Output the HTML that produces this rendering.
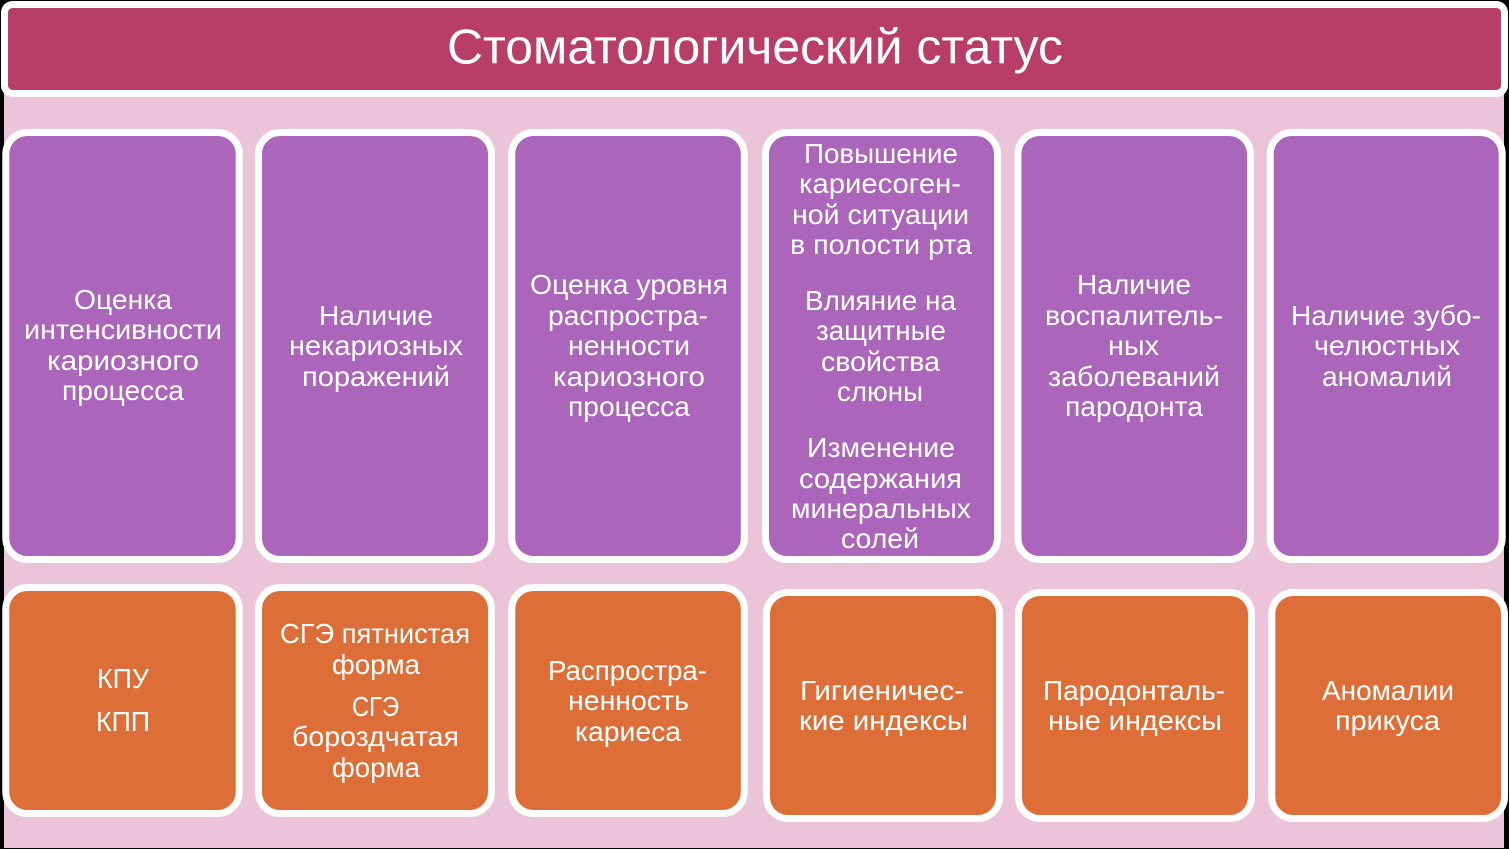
<!DOCTYPE html>
<html lang="ru"><head><meta charset="utf-8"><title>Стоматологический статус</title>
<style>
html,body{margin:0;padding:0;background:#000;width:1509px;height:849px;overflow:hidden}
svg{display:block}
text{font-family:"Liberation Sans",sans-serif;fill:#fff;text-anchor:middle;font-size:28px}
.p{fill:#ab65ba;stroke:#fff;stroke-width:7}
.o{fill:#de6e37;stroke:#fff;stroke-width:7}
</style></head><body>
<svg width="1509" height="849" viewBox="0 0 1509 849" xmlns="http://www.w3.org/2000/svg">
<rect x="0" y="0" width="1509" height="849" fill="#000"/>
<rect x="4" y="4" width="1500" height="844" fill="#ecc4da"/>
<rect x="4.5" y="4.5" width="1500" height="89" rx="8" fill="#b83e68" stroke="#fff" stroke-width="7"/>
<text x="755" y="63.5" style="font-size:49px" textLength="616" lengthAdjust="spacingAndGlyphs">Стоматологический статус</text>

<rect class="p" x="5.8" y="132.5" width="233.4" height="427" rx="21.5"/>
<rect class="p" x="258.5" y="132.5" width="233" height="427" rx="21.5"/>
<rect class="p" x="511.8" y="132.5" width="232.5" height="427" rx="21.5"/>
<rect class="p" x="765.5" y="132.5" width="232" height="427" rx="21.5"/>
<rect class="p" x="1018" y="132.5" width="232.5" height="427" rx="21.5"/>
<rect class="p" x="1270.2" y="132.5" width="232" height="427" rx="21.5"/>

<rect class="o" x="5.8" y="587.5" width="233.4" height="226" rx="21.5"/>
<rect class="o" x="258.5" y="587.5" width="233" height="226" rx="21.5"/>
<rect class="o" x="511.8" y="587.5" width="232.5" height="226" rx="21.5"/>
<rect class="o" x="766.5" y="592.5" width="233" height="226" rx="21.5"/>
<rect class="o" x="1018.5" y="592.5" width="233" height="226" rx="21.5"/>
<rect class="o" x="1271.8" y="592.5" width="232.7" height="226" rx="21.5"/>

<g>
<text x="123" y="309" textLength="98" lengthAdjust="spacingAndGlyphs">Оценка</text>
<text x="123" y="339" textLength="198" lengthAdjust="spacingAndGlyphs">интенсивности</text>
<text x="123" y="370" textLength="152" lengthAdjust="spacingAndGlyphs">кариозного</text>
<text x="123" y="400" textLength="122" lengthAdjust="spacingAndGlyphs">процесса</text>

<text x="376" y="325" textLength="114" lengthAdjust="spacingAndGlyphs">Наличие</text>
<text x="376" y="355" textLength="174" lengthAdjust="spacingAndGlyphs">некариозных</text>
<text x="376" y="386" textLength="148" lengthAdjust="spacingAndGlyphs">поражений</text>

<text x="629" y="294" textLength="198" lengthAdjust="spacingAndGlyphs">Оценка уровня</text>
<text x="628" y="325" textLength="160" lengthAdjust="spacingAndGlyphs">распростра-</text>
<text x="629" y="355" textLength="122" lengthAdjust="spacingAndGlyphs">ненности</text>
<text x="629" y="386" textLength="152" lengthAdjust="spacingAndGlyphs">кариозного</text>
<text x="629" y="416" textLength="122" lengthAdjust="spacingAndGlyphs">процесса</text>

<text x="881" y="163" textLength="154" lengthAdjust="spacingAndGlyphs">Повышение</text>
<text x="880" y="193" textLength="162" lengthAdjust="spacingAndGlyphs">кариесоген-</text>
<text x="880.5" y="224" textLength="177" lengthAdjust="spacingAndGlyphs">ной ситуации</text>
<text x="881" y="254" textLength="182" lengthAdjust="spacingAndGlyphs">в полости рта</text>
<text x="880.5" y="310" textLength="151" lengthAdjust="spacingAndGlyphs">Влияние на</text>
<text x="881" y="340" textLength="130" lengthAdjust="spacingAndGlyphs">защитные</text>
<text x="880.5" y="371" textLength="119" lengthAdjust="spacingAndGlyphs">свойства</text>
<text x="880" y="401" textLength="86" lengthAdjust="spacingAndGlyphs">слюны</text>
<text x="881" y="457" textLength="148" lengthAdjust="spacingAndGlyphs">Изменение</text>
<text x="880.5" y="488" textLength="163" lengthAdjust="spacingAndGlyphs">содержания</text>
<text x="881" y="518" textLength="180" lengthAdjust="spacingAndGlyphs">минеральных</text>
<text x="880" y="548" textLength="78" lengthAdjust="spacingAndGlyphs">солей</text>

<text x="1134" y="294" textLength="114" lengthAdjust="spacingAndGlyphs">Наличие</text>
<text x="1134" y="325" textLength="178" lengthAdjust="spacingAndGlyphs">воспалитель-</text>
<text x="1133.5" y="355" textLength="51" lengthAdjust="spacingAndGlyphs">ных</text>
<text x="1134" y="386" textLength="172" lengthAdjust="spacingAndGlyphs">заболеваний</text>
<text x="1134" y="416" textLength="138" lengthAdjust="spacingAndGlyphs">пародонта</text>

<text x="1386" y="325" textLength="190" lengthAdjust="spacingAndGlyphs">Наличие зубо-</text>
<text x="1387" y="355" textLength="146" lengthAdjust="spacingAndGlyphs">челюстных</text>
<text x="1387" y="386" textLength="130" lengthAdjust="spacingAndGlyphs">аномалий</text>

<text x="123" y="688" textLength="52" lengthAdjust="spacingAndGlyphs">КПУ</text>
<text x="123" y="731" textLength="54" lengthAdjust="spacingAndGlyphs">КПП</text>

<text x="375" y="643" textLength="190" lengthAdjust="spacingAndGlyphs">СГЭ пятнистая</text>
<text x="376" y="674" textLength="88" lengthAdjust="spacingAndGlyphs">форма</text>
<text x="375.5" y="716" textLength="47" lengthAdjust="spacingAndGlyphs">СГЭ</text>
<text x="375.5" y="746" textLength="167" lengthAdjust="spacingAndGlyphs">бороздчатая</text>
<text x="376" y="777" textLength="88" lengthAdjust="spacingAndGlyphs">форма</text>

<text x="627.5" y="680" textLength="159" lengthAdjust="spacingAndGlyphs">Распростра-</text>
<text x="628.5" y="710" textLength="121" lengthAdjust="spacingAndGlyphs">ненность</text>
<text x="628" y="741" textLength="106" lengthAdjust="spacingAndGlyphs">кариеса</text>

<text x="882" y="700" textLength="164" lengthAdjust="spacingAndGlyphs">Гигиеничес-</text>
<text x="883.5" y="730" textLength="169" lengthAdjust="spacingAndGlyphs">кие индексы</text>

<text x="1134" y="700" textLength="182" lengthAdjust="spacingAndGlyphs">Пародонталь-</text>
<text x="1135" y="730" textLength="174" lengthAdjust="spacingAndGlyphs">ные индексы</text>

<text x="1388" y="700" textLength="132" lengthAdjust="spacingAndGlyphs">Аномалии</text>
<text x="1387.5" y="730" textLength="105" lengthAdjust="spacingAndGlyphs">прикуса</text>
</g>
</svg>
</body></html>
